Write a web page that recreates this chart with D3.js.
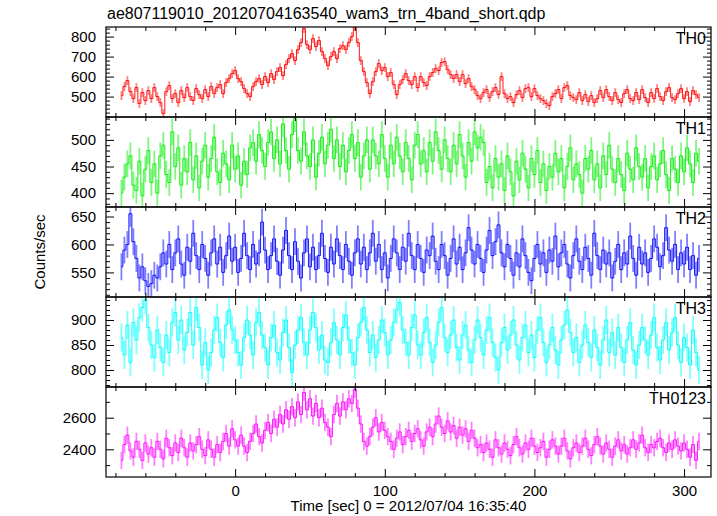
<!DOCTYPE html>
<html>
<head>
<meta charset="utf-8">
<script src="https://cdn.jsdelivr.net/npm/d3@7"></script>
<style>
  body { margin: 0; background: #fff; }
  text { font-family: "Liberation Sans", Arial, Helvetica, sans-serif; fill: #000; }
</style>
</head>
<body>
<svg id="chart" width="717" height="516"></svg>
<script>
// ---------------- DATA ----------------
const titleText = "ae807119010_20120704163540_wam3_trn_4band_short.qdp";
const xLabelText = "Time [sec] 0 = 2012/07/04 16:35:40";
const yLabelText = "Counts/sec";
const channels = ["TH0", "TH1", "TH2", "TH3", "TH0123"];

const tStart = -76;   // first bin centre (s)
const binSec = 2;     // bin width (s)
const xDomain = [-86.3, 318];
const xMajorTicks = [0, 100, 200, 300];

const th0 = [505,550,580,525,490,545,465,520,480,530,490,545,500,470,415,525,555,490,
515,470,530,495,545,500,480,540,510,490,535,500,550,515,545,560,515,570,590,615,630,590,575,540,515,500,550,575,590,560,
600,570,615,585,625,645,605,660,690,715,680,735,770,840,760,735,790,750,780,725,690,655,700,725,690,740,755,735,770,800,850,770,680,625,570,
515,575,625,665,630,645,600,620,560,510,560,585,615,580,560,600,545,600,570,555,600,620,640,630,670,675,635,610,590,610,575,610,565,590,550,535,505,490,520,
535,495,525,545,510,600,515,490,500,470,510,530,495,540,545,500,540,505,490,480,465,455,500,515,535,490,545,555,505,495,485,520,480,510,475,505,470,490,530,495,535,500,480,520,485,470,515,535,490,480,520,485,535,495,470,520,490,540,500,480,525,545,495,485,515,540,490,525,475,530,510,495];

const th1 = [400,430,455,470,415,405,460,395,445,480,420,455,400,470,490,435,420,515,
450,485,415,465,440,495,425,470,410,460,490,430,465,505,440,420,475,455,425,490,445,470,415,460,435,485,495,460,510,480,
450,495,515,465,500,455,530,480,445,510,540,480,460,515,470,450,500,430,475,505,455,490,520,465,500,450,490,440,480,510,465,495,430,470,500,
445,500,470,455,510,465,430,490,455,505,470,440,495,465,425,490,510,455,480,440,495,460,515,480,445,500,465,440,490,455,510,470,430,495,460,515,485,505,495,
420,450,410,465,430,455,405,470,440,395,460,425,475,445,410,465,435,480,420,455,405,450,430,475,440,465,410,450,485,425,455,435,400,465,445,480,425,455,410,470,435,490,445,420,465,435,405,475,445,425,485,450,430,465,410,450,470,425,455,480,435,405,465,445,420,470,440,485,455,420,475,460];

const th2 = [560,590,600,655,605,575,540,560,535,525,
530,545,540,560,585,565,600,555,585,610,
565,545,595,570,620,580,555,600,575,545,
585,610,565,595,550,580,615,570,595,550,
575,620,580,555,600,565,585,640,590,555,
580,610,570,545,590,625,580,555,605,570,
540,585,610,560,595,555,580,620,575,550,
595,565,610,580,555,600,570,545,585,610,
565,595,555,585,620,570,600,555,585,540,
575,610,585,555,595,570,620,580,555,600,
575,550,590,580,615,570,555,600,580,545,
575,610,565,595,555,585,630,590,565,600,
575,550,590,625,580,605,635,585,560,600,
575,545,585,560,610,580,550,535,575,600,
565,585,550,590,570,615,560,585,600,565,
540,580,610,570,555,595,575,545,620,580,
555,590,565,585,540,570,600,555,585,565,
615,575,545,595,565,585,550,575,610,595,
560,580,630,590,570,600,555,585,565,595,
555,580,545,575];

const th3 = [865,830,890,815,895,860,905,925,940,885,
850,825,880,845,815,870,835,895,915,860,
900,840,875,915,850,925,885,810,855,800,
835,880,905,855,825,890,920,880,860,835,
810,865,900,870,830,895,915,870,845,810,
865,890,835,820,875,900,845,795,850,880,
905,855,830,880,915,885,840,870,820,815,
855,895,860,830,885,910,860,835,810,865,
895,925,880,835,870,825,860,900,875,830,
860,895,920,935,880,855,830,885,910,850,
830,875,905,855,815,850,895,925,865,835,
870,900,845,820,870,890,840,815,860,900,
865,830,880,905,855,825,800,855,885,840,
870,900,850,820,865,890,835,870,825,880,
905,855,815,850,885,840,810,860,890,920,
875,835,865,815,850,890,855,825,880,845,
810,860,900,835,875,830,885,845,815,860,
895,840,810,850,885,860,830,870,905,845,
820,860,895,840,875,905,850,815,865,845,
810,880,835,800];

const th0123 = [2330,2430,2490,2390,2350,2450,2400,2330,2440,2370,
2410,2350,2450,2400,2340,2470,2410,2360,2440,2380,
2470,2410,2350,2440,2390,2430,2480,2400,2360,2460,
2400,2350,2430,2380,2450,2500,2420,2530,2460,2420,
2490,2420,2380,2450,2500,2560,2480,2440,2520,2570,
2500,2590,2540,2620,2560,2650,2590,2670,2600,2700,
2620,2760,2650,2720,2610,2690,2600,2660,2570,2540,
2480,2620,2690,2610,2700,2650,2720,2690,2780,2660,
2560,2450,2420,2480,2540,2600,2510,2570,2520,2480,
2450,2400,2470,2510,2430,2480,2520,2450,2500,2530,
2460,2420,2510,2540,2480,2560,2610,2540,2500,2580,
2510,2550,2470,2540,2490,2530,2450,2520,2470,2410,
2430,2380,2440,2400,2350,2460,2410,2370,2440,2400,
2360,2430,2480,2410,2370,2440,2400,2470,2420,2380,
2410,2450,2350,2400,2460,2420,2370,2420,2470,2390,
2340,2410,2440,2380,2420,2470,2400,2360,2430,2480,
2420,2370,2440,2400,2350,2420,2460,2390,2430,2370,
2410,2460,2400,2440,2490,2410,2380,2430,2410,2450,
2470,2410,2380,2440,2400,2460,2420,2390,2440,2400,
2350,2430,2330,2450];

const seriesValues = [th0, th1, th2, th3, th0123];
const errHalf = [22, 25, 24, 28, 55];
const yDomains = [[398, 848], [374, 543], [506, 667], [766, 946], [2225, 2794]];
const yMajorTicks = [[500, 600, 700, 800], [400, 450, 500], [550, 600, 650], [800, 850, 900], [2400, 2600]];
const yMinorStep = [20, 10, 10, 10, 100];
const colors = ["#ff0000", "#00ee00", "#0000ff", "#00ffff", "#ff00ff"];

// ---------------- LAYOUT ----------------
const svg = d3.select("#chart");
const left = 106, right = 711, top0 = 27, panelH = 90;
const nP = channels.length;
const bottom = top0 + panelH * nP;

const x = d3.scaleLinear().domain(xDomain).range([left, right]);
const xMinorTicks = d3.range(-80, 320, 20).filter(v => v > xDomain[0] && v < xDomain[1] && xMajorTicks.indexOf(v) < 0);

svg.append("defs").selectAll("clipPath").data(channels).join("clipPath")
  .attr("id", (d, i) => "clip" + i)
  .append("rect")
  .attr("x", left).attr("width", right - left)
  .attr("y", (d, i) => top0 + i * panelH).attr("height", panelH);

channels.forEach((name, i) => {
  const pTop = top0 + i * panelH, pBot = pTop + panelH;
  const y = d3.scaleLinear().domain(yDomains[i]).range([pBot, pTop]);
  const vals = seriesValues[i];
  const pts = vals.map((v, k) => ({ t: tStart + k * binSec, v }));
  const g = svg.append("g");
  const dg = g.append("g").attr("clip-path", `url(#clip${i})`);

  // error bars
  dg.append("g").selectAll("line").data(pts).join("line")
    .attr("x1", d => x(d.t)).attr("x2", d => x(d.t))
    .attr("y1", d => y(d.v - errHalf[i])).attr("y2", d => y(d.v + errHalf[i]))
    .attr("stroke", colors[i]).attr("stroke-opacity", 0.5).attr("stroke-width", 1.8);

  // step line (QDP style)
  const line = d3.line().x(d => x(d.t)).y(d => y(d.v)).curve(d3.curveStep);
  dg.append("path").datum(pts).attr("d", line)
    .attr("fill", "none").attr("stroke", colors[i]).attr("stroke-width", 1).attr("stroke-opacity", 0.9);

  const [y0, y1] = yDomains[i];
  const minor = d3.range(Math.ceil(y0 / yMinorStep[i]) * yMinorStep[i], y1, yMinorStep[i])
    .filter(v => yMajorTicks[i].indexOf(v) < 0);

  g.append("g").attr("transform", `translate(${left},0)`)
    .call(d3.axisLeft(y).tickValues(yMajorTicks[i]).tickSize(-8).tickPadding(10).tickFormat(d3.format("d")));
  g.append("g").attr("transform", `translate(${left},0)`)
    .call(d3.axisLeft(y).tickValues(minor).tickSize(-4).tickFormat(""));
  g.append("g").attr("transform", `translate(${right},0)`)
    .call(d3.axisRight(y).tickValues(yMajorTicks[i]).tickSize(-8).tickFormat(""));
  g.append("g").attr("transform", `translate(${right},0)`)
    .call(d3.axisRight(y).tickValues(minor).tickSize(-4).tickFormat(""));

  g.append("g").attr("transform", `translate(0,${pTop})`)
    .call(d3.axisTop(x).tickValues(xMajorTicks).tickSize(-8).tickFormat(""));
  g.append("g").attr("transform", `translate(0,${pTop})`)
    .call(d3.axisTop(x).tickValues(xMinorTicks).tickSize(-4).tickFormat(""));
  const last = i === nP - 1;
  g.append("g").attr("transform", `translate(0,${pBot})`)
    .call(d3.axisBottom(x).tickValues(xMajorTicks).tickSize(-8).tickPadding(8)
      .tickFormat(last ? d3.format("d") : ""));
  g.append("g").attr("transform", `translate(0,${pBot})`)
    .call(d3.axisBottom(x).tickValues(xMinorTicks).tickSize(-4).tickFormat(""));

  g.append("rect").attr("x", left).attr("y", pTop).attr("width", right - left).attr("height", panelH)
    .attr("fill", "none").attr("stroke", "#000").attr("stroke-width", 1.2);

  g.append("text").attr("x", right - 5).attr("y", pTop + 17).attr("text-anchor", "end")
    .style("font-size", "16px").text(name);
});

svg.selectAll(".domain").remove();
svg.selectAll(".tick line").attr("stroke", "#000").attr("stroke-width", 1);
svg.selectAll(".tick text").style("font-size", "15px").style("font-family", '"Liberation Sans", Arial, sans-serif').attr("fill", "#000");

svg.append("text").attr("x", 107).attr("y", 19).style("font-size", "16px").text(titleText);
svg.append("text").attr("x", (left + right) / 2).attr("y", 511).attr("text-anchor", "middle")
  .style("font-size", "15px").text(xLabelText);
svg.append("text").attr("transform", `translate(45,${(top0 + bottom) / 2}) rotate(-90)`)
  .attr("text-anchor", "middle").style("font-size", "15px").text(yLabelText);
</script>
</body>
</html>
